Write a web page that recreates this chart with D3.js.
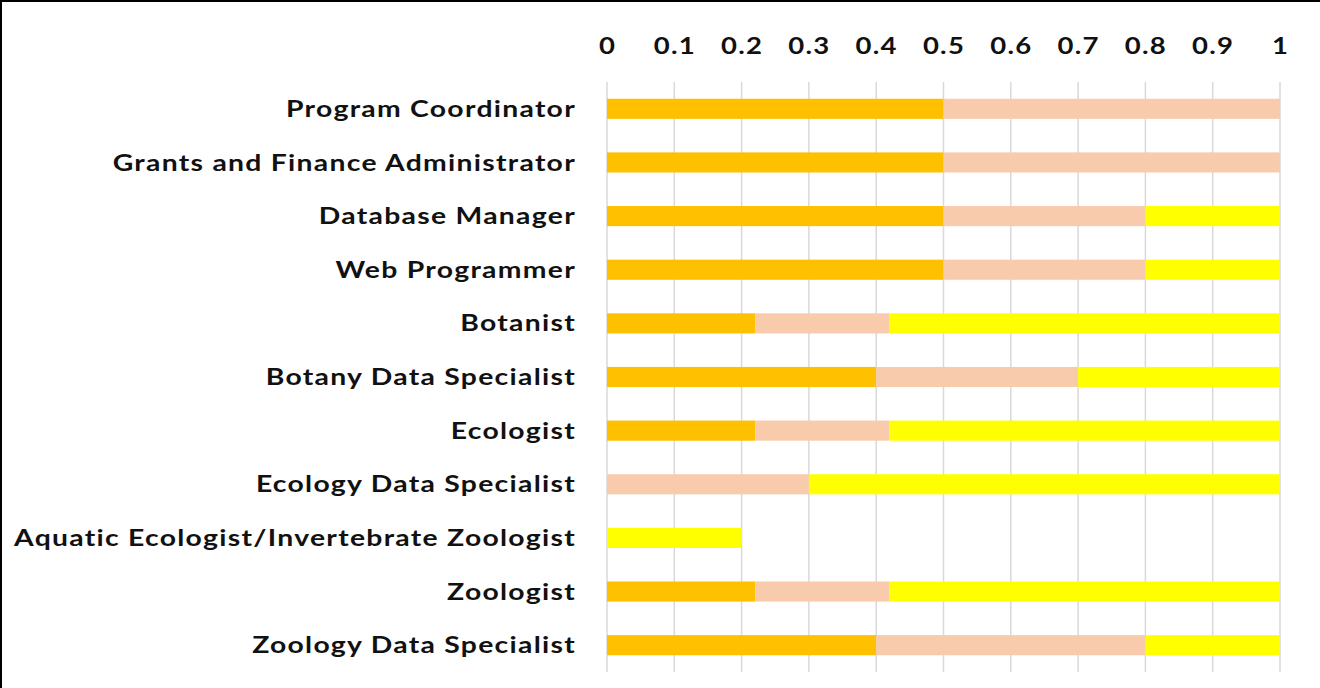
<!DOCTYPE html>
<html>
<head>
<meta charset="utf-8">
<script src="https://cdn.jsdelivr.net/npm/d3@7"></script>
<style>
  body { margin: 0; background: #fff; }
  svg { display: block; }
  text { font-family: Lato, "Open Sans", sans-serif; font-weight: bold; fill: #111; }
</style>
</head>
<body>
<svg id="chart"></svg>
<script>
const roles = [
  "Program Coordinator",
  "Grants and Finance Administrator",
  "Database Manager",
  "Web Programmer",
  "Botanist",
  "Botany Data Specialist",
  "Ecologist",
  "Ecology Data Specialist",
  "Aquatic Ecologist/Invertebrate Zoologist",
  "Zoologist",
  "Zoology Data Specialist"
];

// three stacked shares per role
const seriesA = [0.5, 0.5, 0.5, 0.5, 0.22, 0.4, 0.22, 0, 0, 0.22, 0.4];
const seriesB = [0.5, 0.5, 0.3, 0.3, 0.2, 0.3, 0.2, 0.3, 0, 0.2, 0.4];
const seriesC = [0, 0, 0.2, 0.2, 0.58, 0.3, 0.58, 0.7, 0.2, 0.58, 0.2];

const seriesKeys = ["a", "b", "c"];
const seriesColors = ["#ffc000", "#f8cbad", "#ffff00"];

const tickValues = [0, 0.1, 0.2, 0.3, 0.4, 0.5, 0.6, 0.7, 0.8, 0.9, 1];

const width = 1320;
const height = 688;

const svg = d3.select("#chart").attr("width", width).attr("height", height);

// frame (only top + left edge show)
svg.append("rect")
  .attr("x", 1)
  .attr("y", 1)
  .attr("width", width + 10)
  .attr("height", height + 10)
  .attr("fill", "none")
  .attr("stroke", "#000")
  .attr("stroke-width", 2);

const x = d3.scaleLinear().domain([0, 1]).range([607, 1280]);
const y = d3.scaleBand().domain(roles).range([82, 672]).padding(0);
const barH = y.bandwidth() * 0.375;

const color = d3.scaleOrdinal().domain(seriesKeys).range(seriesColors);

const rows = roles.map((r, i) => ({ role: r, a: seriesA[i], b: seriesB[i], c: seriesC[i] }));
const stacked = d3.stack().keys(seriesKeys)(rows);

// the original font is wider than Lato, stretch text a bit
const stretch = (sel, k) => {
  sel.each(function () {
    const w = this.getComputedTextLength();
    d3.select(this)
      .attr("textLength", w * k)
      .attr("lengthAdjust", "spacingAndGlyphs");
  });
};

// gridlines
svg.append("g")
  .selectAll("line")
  .data(tickValues)
  .join("line")
  .attr("x1", d => x(d))
  .attr("x2", d => x(d))
  .attr("y1", 82)
  .attr("y2", 672)
  .attr("stroke", "#d9d9d9")
  .attr("stroke-width", 1.5);

// top axis labels
const xAxis = svg.append("g")
  .attr("transform", "translate(0,54)")
  .call(d3.axisTop(x).tickValues(tickValues).tickFormat(d3.format("")).tickSize(0).tickPadding(0));
xAxis.select(".domain").remove();
xAxis.selectAll("text")
  .attr("font-size", 22)
  .attr("letter-spacing", 1)
  .style("font-family", null)
  .call(stretch, 1.25);

// bars
svg.append("g")
  .selectAll("g")
  .data(stacked)
  .join("g")
  .attr("fill", d => color(d.key))
  .selectAll("rect")
  .data(d => d)
  .join("rect")
  .attr("x", d => x(d[0]))
  .attr("width", d => x(d[1]) - x(d[0]))
  .attr("y", d => y(d.data.role) + (y.bandwidth() - barH) / 2)
  .attr("height", barH);

// category labels
const yAxis = svg.append("g")
  .attr("transform", "translate(576,1)")
  .call(d3.axisLeft(y).tickSize(0).tickPadding(0));
yAxis.select(".domain").remove();
const labels = yAxis.selectAll("text")
  .attr("font-size", 22)
  .attr("letter-spacing", 1)
  .style("font-family", null);
// longest label spans about 562px in the original
const longest = d3.max(labels.nodes(), n => n.getComputedTextLength());
labels.call(stretch, 562 / longest);
</script>
</body>
</html>
